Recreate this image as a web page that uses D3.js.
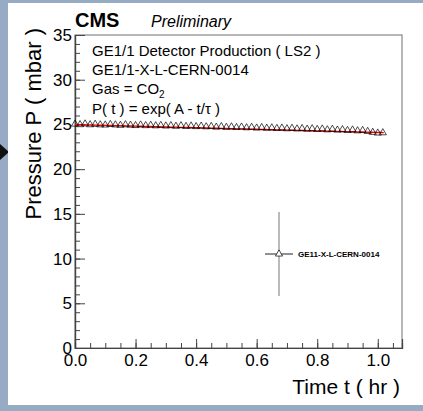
<!DOCTYPE html>
<html>
<head>
<meta charset="utf-8">
<script src="https://cdn.jsdelivr.net/npm/d3@7"></script>
<style>
  body { margin: 0; background: #98abc4; }
  svg { display: block; }
  text { font-family: "Liberation Sans", Arial, Helvetica, sans-serif; }
</style>
</head>
<body>
<svg width="423" height="411"></svg>
<script>
// measurement: pressure vs time, one point per minute
var times = d3.range(62).map(function(i){ return i / 60 })
var pressure = [
  25.04, 24.98, 25.06, 24.97, 25.02, 24.96, 24.94, 25.00, 24.95, 24.91,
  24.97, 24.92, 24.88, 24.94, 24.87, 24.91, 24.85, 24.89, 24.83, 24.87,
  24.80, 24.86, 24.78, 24.83, 24.76, 24.81, 24.74, 24.78, 24.70, 24.76,
  24.68, 24.73, 24.66, 24.71, 24.63, 24.68, 24.60, 24.65, 24.58, 24.62,
  24.55, 24.60, 24.52, 24.57, 24.50, 24.54, 24.47, 24.52, 24.44, 24.49,
  24.40, 24.46, 24.37, 24.42, 24.33, 24.38, 24.29, 24.33, 24.22, 24.12,
  24.04, 24.07
]
// fit P(t) = exp(A - t/tau)
var fitA = 3.2184
var fitTau = 27.8
var yTicks = [0, 5, 10, 15, 20, 25, 30, 35]
var xTicks = [0, 0.2, 0.4, 0.6, 0.8, 1.0]
var infoLines = ["GE1/1 Detector Production ( LS2 )", "GE1/1-X-L-CERN-0014", "Gas = CO", "P( t ) = exp( A - t/\u03c4 )"]
var legendLabel = "GE11-X-L-CERN-0014"

var svg = d3.select("svg")

// background panel
svg.append("rect").attr("x", 0).attr("y", 0).attr("width", 423).attr("height", 411).attr("fill", "#98abc4")
svg.append("polygon").attr("points", "0,144 9,152 0,160").attr("fill", "#111")
svg.append("rect").attr("x", 8).attr("y", 3).attr("width", 415).attr("height", 402).attr("fill", "#fff")

var x = d3.scaleLinear().domain([0, 1.08]).range([75, 402])
var y = d3.scaleLinear().domain([0, 35]).range([348, 35])

// frame
svg.append("rect").attr("x", 75).attr("y", 35).attr("width", 327).attr("height", 313)
  .attr("fill", "none").attr("stroke", "#888").attr("stroke-width", 1.2)

// minor ticks
svg.append("g").attr("transform", "translate(75,0)")
  .call(d3.axisLeft(y).tickValues(d3.range(0, 36, 1)).tickSize(-5).tickFormat(""))
svg.append("g").attr("transform", "translate(0,348)")
  .call(d3.axisBottom(x).tickValues(d3.range(0, 1.08, 0.05)).tickSize(-5).tickFormat(""))

// major ticks + labels
var yAxis = svg.append("g").attr("transform", "translate(75,0)")
  .call(d3.axisLeft(y).tickValues(yTicks).tickSize(-10).tickPadding(3).tickFormat(d3.format("d")))
var xAxis = svg.append("g").attr("transform", "translate(0,348)")
  .call(d3.axisBottom(x).tickValues(xTicks).tickSize(-9).tickPadding(6).tickFormat(d3.format(".1f")))

svg.selectAll(".domain").attr("stroke", "#444").attr("stroke-width", 1.2)
svg.selectAll(".tick line").attr("stroke", "#444")
yAxis.selectAll("text").attr("font-size", 17).attr("fill", "#000").attr("font-family", "Liberation Sans, Arial")
xAxis.selectAll("text").attr("font-size", 17).attr("fill", "#000").attr("font-family", "Liberation Sans, Arial")

// axis titles
svg.append("text").attr("transform", "translate(41,28) rotate(-90)")
  .attr("text-anchor", "end").attr("font-size", 22).text("Pressure P ( mbar )")
svg.append("text").attr("x", 400).attr("y", 394)
  .attr("text-anchor", "end").attr("font-size", 21).text("Time t ( hr )")

// header
svg.append("text").attr("x", 75).attr("y", 27).attr("font-size", 20).attr("font-weight", "bold").text("CMS")
svg.append("text").attr("x", 151).attr("y", 27).attr("font-size", 16).attr("font-style", "italic").text("Preliminary")

// info text
var info = svg.append("g")
infoLines.forEach(function(s, i){
  var t = info.append("text").attr("x", 92).attr("y", 56 + i * 19.2).attr("font-size", 15).text(s)
  if (i == 2) t.append("tspan").attr("font-size", 10).attr("dy", 4).text("2")
})

// fit curve
var fitPts = d3.range(0, 1.0201, 0.01).map(function(t){ return [t, Math.exp(fitA - t / fitTau)] })
svg.append("path").datum(fitPts)
  .attr("fill", "none").attr("stroke", "#ff0000").attr("stroke-width", 1.4)
  .attr("d", d3.line().x(function(d){ return x(d[0]) }).y(function(d){ return y(d[1]) }))

// data points
var tri = d3.symbol().type(d3.symbolTriangle).size(22)
svg.append("g").selectAll("path").data(pressure).enter().append("path")
  .attr("d", tri)
  .attr("transform", function(d, i){ return "translate(" + x(times[i]) + "," + y(d) + ")" })
  .attr("fill", "none").attr("stroke", "#000").attr("stroke-width", 0.7)

// legend
var lg = svg.append("g").attr("transform", "translate(279,254)")
lg.append("line").attr("x1", 0).attr("x2", 0).attr("y1", -42).attr("y2", 42).attr("stroke", "#777").attr("stroke-width", 1)
lg.append("line").attr("x1", -14).attr("x2", 14).attr("y1", 0).attr("y2", 0).attr("stroke", "#222").attr("stroke-width", 1)
lg.append("path").attr("d", tri).attr("fill", "#fff").attr("stroke", "#000").attr("stroke-width", 0.7)
lg.append("text").attr("x", 19).attr("y", 3).attr("font-size", 8).attr("font-weight", "bold").text(legendLabel)
</script>
</body>
</html>
